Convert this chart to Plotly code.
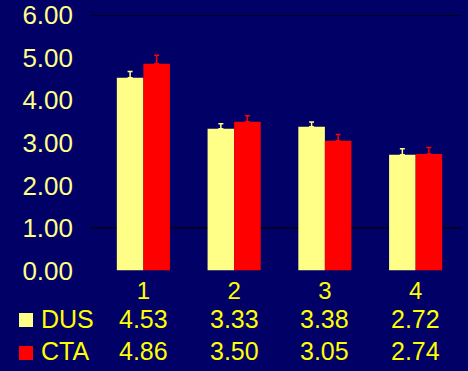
import plotly.graph_objects as go

categories = ["1", "2", "3", "4"]
dus = [4.53, 3.33, 3.38, 2.72]
cta = [4.86, 3.50, 3.05, 2.74]
dus_err = [0.15, 0.12, 0.11, 0.14]
cta_err = [0.20, 0.14, 0.15, 0.15]
y_ticks = [0, 1, 2, 3, 4, 5, 6]
series_names = ["DUS", "CTA"]

BG = "#000066"
PALE = "#FFFF88"
RED = "#FF0000"
YEL = "#FFFF00"
FONT = "Liberation Sans, Arial, sans-serif"

fig = go.Figure()
fig.add_trace(go.Bar(x=categories, y=dus, name=series_names[0], marker=dict(color=PALE, line=dict(width=0)),
                     error_y=dict(type="data", array=dus_err, color=PALE, thickness=1.5, width=2.5, symmetric=False, arrayminus=[0]*4)))
fig.add_trace(go.Bar(x=categories, y=cta, name=series_names[1], marker=dict(color=RED, line=dict(width=0)),
                     error_y=dict(type="data", array=cta_err, color=RED, thickness=1.5, width=2.5, symmetric=False, arrayminus=[0]*4)))

W, H = 468, 371
x0p, x1p = 98 / W, 461 / W
y0p, y1p = 1 - 270.5 / H, 1 - 15.3 / H

shapes = []
for gv in [1, 6]:
    shapes.append(dict(type="line", xref="paper", yref="y", x0=90 / W, x1=x1p, y0=gv, y1=gv,
                       line=dict(color="black", width=1.2), layer="below"))

# legend squares
shapes.append(dict(type="rect", xref="paper", yref="paper", x0=19 / W, x1=33 / W,
                   y0=1 - 327 / H, y1=1 - 313 / H, fillcolor=PALE, line=dict(width=0)))
shapes.append(dict(type="rect", xref="paper", yref="paper", x0=19 / W, x1=33 / W,
                   y0=1 - 360 / H, y1=1 - 346 / H, fillcolor=RED, line=dict(width=0)))

annotations = []
rows = [(series_names[0], dus, 319), (series_names[1], cta, 351)]
for name, vals, ypix in rows:
    annotations.append(dict(text=name, xref="paper", yref="paper", x=39 / W, y=1 - ypix / H,
                            xanchor="left", yanchor="middle", showarrow=False,
                            font=dict(family=FONT, size=25, color=YEL)))
    for i, v in enumerate(vals):
        annotations.append(dict(text=f"{v:.2f}", xref="x", yref="paper", x=i, y=1 - ypix / H,
                                xanchor="center", yanchor="middle", showarrow=False,
                                font=dict(family=FONT, size=25, color=YEL)))

fig.update_layout(
    width=W, height=H, margin=dict(l=0, r=0, t=0, b=0, autoexpand=False),
    paper_bgcolor=BG, plot_bgcolor=BG, showlegend=False,
    barmode="group", bargap=0.415, bargroupgap=0,
    shapes=shapes, annotations=annotations,
    xaxis=dict(type="category", domain=[x0p, x1p], range=[-0.5, len(categories) - 0.5],
               showticklabels=True, showgrid=False, zeroline=False, showline=False, ticks="",
               ticklabelstandoff=3,
               tickfont=dict(family=FONT, size=24, color=YEL)),
    yaxis=dict(domain=[y0p, y1p], range=[0, 6], tickvals=y_ticks, tickformat=".2f",
               showgrid=False, zeroline=False, showline=False, ticks="",
               ticklabelstandoff=24,
               tickfont=dict(family=FONT, size=26, color=PALE)),
)

fig.write_html("out.html")
